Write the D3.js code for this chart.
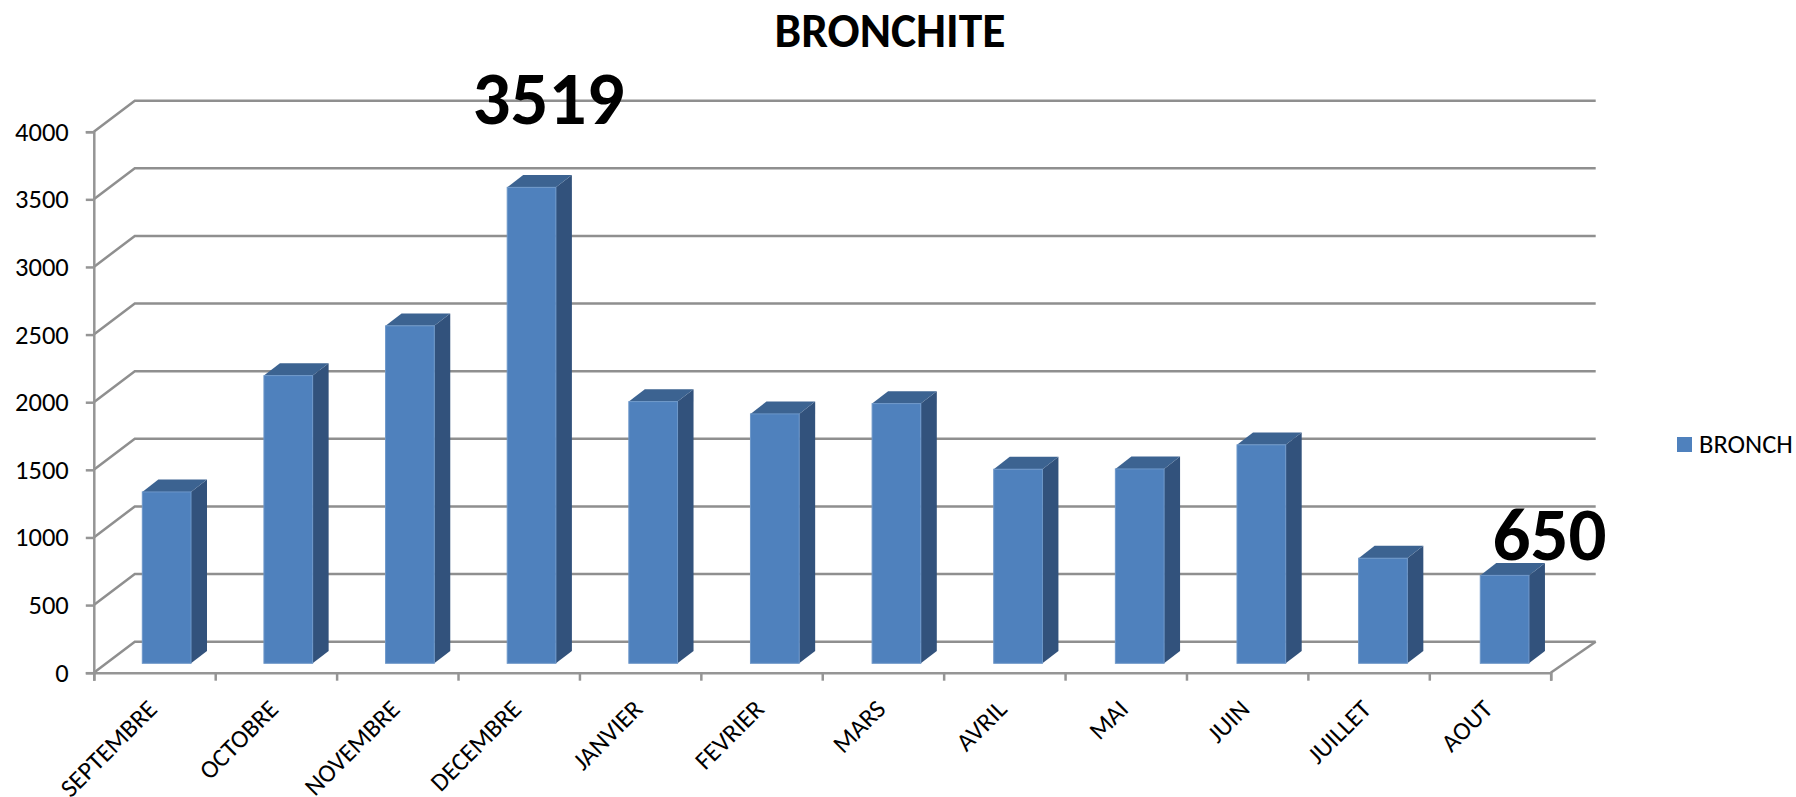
<!DOCTYPE html>
<html lang="fr">
<head>
<meta charset="utf-8">
<title>BRONCHITE</title>
<script src="https://cdn.jsdelivr.net/npm/d3@7/dist/d3.min.js"></script>
<style>
  html, body { margin: 0; padding: 0; background: #fff; overflow: hidden; }
  svg { display: block; }
  svg, svg .axis, svg .axis text { font-family: Carlito, Lato, "Open Sans", sans-serif; }
  .axis path, .axis line { stroke: #959595; stroke-width: 2.5; }
  .axis text { fill: #000; }
</style>
</head>
<body>
<svg id="chart" width="1796" height="797"></svg>
<script>
// Monthly bronchitis cases over one season
const months = ["SEPTEMBRE", "OCTOBRE", "NOVEMBRE", "DECEMBRE", "JANVIER", "FEVRIER",
                "MARS", "AVRIL", "MAI", "JUIN", "JUILLET", "AOUT"];
const bronch = [1267, 2127, 2495, 3519, 1935, 1844, 1920, 1435, 1437, 1615, 777, 650];
const yTicks = [0, 500, 1000, 1500, 2000, 2500, 3000, 3500, 4000];
const seriesName = "BRONCH";
const chartTitle = "BRONCHITE";
const calledOutMonths = ["DECEMBRE", "AOUT"];

const svg = d3.select("#chart");

// Oblique projection of the box: floor depth and bar depth
const wallDx = 41, wallDy = 31;
const barDx = 16, barDy = 12.4;
const barWidth = 48.7;
const barLift = 9.4;

const x = d3.scaleBand().domain(months).range([93.8, 1550.7]);
const xEdges = d3.scaleLinear().domain([0, months.length]).range([93.8, 1550.7]);
// The bars stand further back in the box, so they get their own band positions
const xBars = d3.scaleBand().domain(months).range([142.3, 1601.9]);
const y = d3.scaleLinear().domain([0, 4000]).range([672.7, 131.7]);
const xMax = x.range()[1];
const xMin = x.range()[0];

// Back wall gridlines with their slanted return to the value axis
const grid = svg.append("g").attr("fill", "none").attr("stroke", "#8f8f8f").attr("stroke-width", 2.5);
grid.selectAll("path").data(yTicks).join("path")
  .attr("d", v => d3.line()([
    [xMin, y(v)],
    [xMin + wallDx, y(v) - wallDy],
    [xMax + 45, y(v) - wallDy]
  ]));
grid.append("line")
  .attr("x1", xMax).attr("y1", y(0))
  .attr("x2", xMax + 45).attr("y2", y(0) - wallDy);

// Value axis
svg.append("g").attr("class", "axis")
  .attr("transform", `translate(${xMin},0)`)
  .call(d3.axisLeft(y).tickValues(yTicks).tickSize(8).tickPadding(17).tickFormat(d3.format("d")))
  .call(g => g.selectAll("text").attr("font-size", 26.5));

// Category axis: tick marks sit on band edges, labels at band centres
svg.append("g").attr("class", "axis")
  .attr("transform", `translate(0,${y(0)})`)
  .call(d3.axisBottom(xEdges).ticks(months.length).tickSize(8).tickFormat(""));

svg.append("g").selectAll("text").data(months).join("text")
  .attr("transform", d => `translate(${x(d) + x.bandwidth() / 2 - 2},${y(0) + 32}) rotate(-45)`)
  .attr("text-anchor", "end")
  .attr("dominant-baseline", "central")
  .attr("font-size", 25.5)
  .attr("fill", "#000")
  .text(d => d);

// Bars: front face, shaded side, darker top
const bottom = y(0) - barLift;
const barHeight = v => (y(0) - y(v));
const bars = svg.append("g").selectAll("g").data(months.map((m, i) => ({ m, v: bronch[i] }))).join("g")
  .attr("transform", d => `translate(${xBars(d.m)},0)`);

bars.append("path").attr("fill", "#32527c")
  .attr("d", d => {
    const t = bottom - barHeight(d.v);
    return d3.line()([[barWidth, t], [barWidth + barDx, t - barDy],
                      [barWidth + barDx, bottom - barDy], [barWidth, bottom]]) + "Z";
  });
bars.append("path").attr("fill", "#3c6391")
  .attr("d", d => {
    const t = bottom - barHeight(d.v);
    return d3.line()([[0, t], [barDx, t - barDy], [barWidth + barDx, t - barDy], [barWidth, t]]) + "Z";
  });
bars.append("rect").attr("fill", "#4f81bd")
  .attr("stroke", "#6d97c9").attr("stroke-width", 1)
  .attr("x", 0).attr("width", barWidth)
  .attr("y", d => bottom - barHeight(d.v))
  .attr("height", d => barHeight(d.v));

// Large callouts on the season's high and low
const calloutShift = { DECEMBRE: [17, -63], AOUT: [45, -15] };
svg.append("g").selectAll("text").data(calledOutMonths).join("text")
  .attr("x", m => xBars(m) + barWidth / 2 + calloutShift[m][0])
  .attr("y", m => bottom - barHeight(bronch[months.indexOf(m)]) + calloutShift[m][1])
  .attr("text-anchor", "middle")
  .attr("font-size", 75)
  .attr("font-weight", 700)
  .attr("fill", "#000")
  .text(m => bronch[months.indexOf(m)]);

// Title
svg.append("text")
  .attr("x", 890).attr("y", 47)
  .attr("text-anchor", "middle")
  .attr("font-size", 47.5)
  .attr("font-weight", 700)
  .attr("fill", "#000")
  .text(chartTitle);

// Legend
const legend = svg.append("g").attr("transform", "translate(1677,437)");
legend.append("rect").attr("width", 15).attr("height", 15).attr("fill", "#4f81bd");
legend.append("text").attr("x", 22).attr("y", 16)
  .attr("font-size", 26.5).attr("fill", "#000").text(seriesName);
</script>
</body>
</html>
